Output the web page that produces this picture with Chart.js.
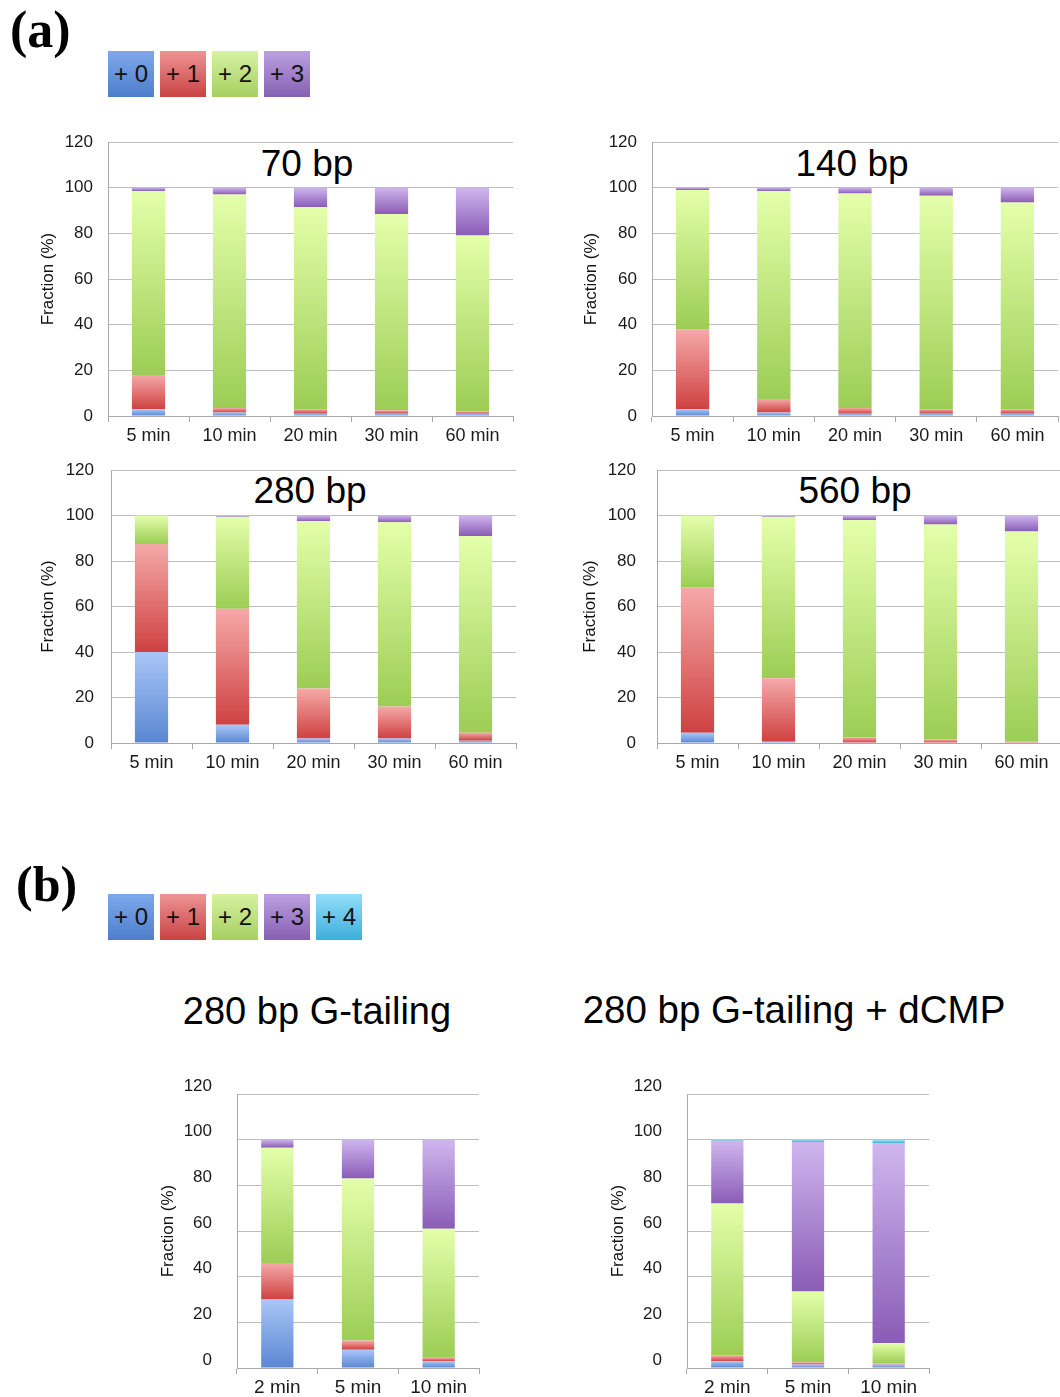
<!DOCTYPE html>
<html>
<head>
<meta charset="utf-8">
<script src="https://cdn.jsdelivr.net/npm/chart.js@4.4.0/dist/chart.umd.min.js"></script>
<style>
html, body { margin: 0; padding: 0; background: #fff; }
body { width: 1060px; height: 1397px; position: relative; overflow: hidden; font-family: "Liberation Sans", Arial, sans-serif; }
.box { position: absolute; }
.tag { position: absolute; font-family: "Liberation Serif", "Times New Roman", serif; font-weight: bold; color: #000; }
.title { position: absolute; text-align: center; white-space: nowrap; color: #000; }
.leg { position: absolute; display: flex; gap: 6px; }
.leg div { width: 46px; height: 46px; font-size: 24px; line-height: 46px; text-align: center; color: #111; }
</style>
</head>
<body>

<div class="tag" style="left:10px;top:4px;font-size:52px;line-height:52px;">(a)</div>
<div class="leg" id="legA" style="left:108px;top:51px;"></div>

<div class="title" style="left:207px;width:200px;top:145px;font-size:37px;line-height:37px;">70 bp</div>
<div class="title" style="left:752px;width:200px;top:145px;font-size:37px;line-height:37px;">140 bp</div>
<div class="title" style="left:210px;width:200px;top:472px;font-size:37px;line-height:37px;">280 bp</div>
<div class="title" style="left:755px;width:200px;top:472px;font-size:37px;line-height:37px;">560 bp</div>

<div class="tag" style="left:16px;top:859px;font-size:50px;line-height:50px;">(b)</div>
<div class="leg" id="legB" style="left:108px;top:894px;"></div>

<div class="title" style="left:117px;width:400px;top:992px;font-size:38px;line-height:38px;">280 bp G-tailing</div>
<div class="title" style="left:544px;width:500px;top:991px;font-size:38.5px;line-height:38.5px;">280 bp G-tailing + dCMP</div>

<script>
// categories
const timesA = ['5 min', '10 min', '20 min', '30 min', '60 min'];
const timesB = ['2 min', '5 min', '10 min'];
const seriesNames = ['+ 0', '+ 1', '+ 2', '+ 3', '+ 4'];

// (a) 70 bp
const bp70_0 = [3, 1.5, 1, 1, 1];
const bp70_1 = [15, 2, 2, 1.5, 1];
const bp70_2 = [80.5, 93.5, 88.5, 86, 77];
const bp70_3 = [1.5, 3, 8.5, 11.5, 21];

// (a) 140 bp
const bp140_0 = [3, 1.5, 1, 1, 1];
const bp140_1 = [35, 6, 2.5, 2, 2];
const bp140_2 = [61, 91, 94, 93.5, 90.5];
const bp140_3 = [1, 1.5, 2.5, 3.5, 6.5];

// (a) 280 bp
const bp280_0 = [40, 8, 2, 2, 1];
const bp280_1 = [47.5, 51, 22, 14, 3.5];
const bp280_2 = [12.5, 40.5, 73.5, 81, 86.5];
const bp280_3 = [0, 0.5, 2.5, 3, 9];

// (a) 560 bp
const bp560_0 = [4.5, 0.5, 0, 0, 0];
const bp560_1 = [64, 28, 2.5, 1.5, 0.5];
const bp560_2 = [31.5, 71, 95.5, 94.5, 92.5];
const bp560_3 = [0, 0.5, 2, 4, 7];

// (b) 280 bp G-tailing
const gt_0 = [30, 8, 3];
const gt_1 = [16, 4, 1.5];
const gt_2 = [50.5, 71, 56.5];
const gt_3 = [3.5, 17, 39];

// (b) 280 bp G-tailing + dCMP
const gtc_0 = [3, 1.5, 1.5];
const gtc_1 = [2.5, 1, 0.5];
const gtc_2 = [66.5, 31, 9];
const gtc_3 = [27.5, 65.5, 87.5];
const gtc_4 = [0.5, 1, 1.5];

// colours: top (light) and bottom (dark) of each segment
const topCols = ['#a9c6f7', '#f5a9a9', '#e4ffaa', '#cfb6ee', '#a6e9fb'];
const botCols = ['#5a86d2', '#cf4141', '#9ccd55', '#8a5cb6', '#3cb0da'];
const legTop = ['#7fa8ec', '#ee9494', '#d6f2a2', '#bca0e2', '#92def8'];
const legBot = ['#4d7ecb', '#c94343', '#a6cf60', '#8660b2', '#3eaedb'];

function legend(id, n) {
  const el = document.getElementById(id);
  for (let i = 0; i < n; i++) {
    const d = document.createElement('div');
    d.textContent = seriesNames[i];
    d.style.background = 'linear-gradient(' + legTop[i] + ',' + legBot[i] + ')';
    el.appendChild(d);
  }
}
legend('legA', 4);
legend('legB', 5);

// each stacked segment gets its own vertical gradient
function segFill(i) {
  return function(c) {
    const chart = c.chart;
    const y = chart.scales.y;
    if (!chart.chartArea || !y || c.type !== 'data') return botCols[i];
    const ds = chart.data.datasets;
    let base = 0;
    for (let k = 0; k < c.datasetIndex; k++) base += ds[k].data[c.dataIndex] || 0;
    const v = ds[c.datasetIndex].data[c.dataIndex];
    const y0 = y.getPixelForValue(base), y1 = y.getPixelForValue(base + v);
    if (!(y0 > y1)) return botCols[i];
    const g = chart.ctx.createLinearGradient(0, y1, 0, y0);
    g.addColorStop(0, topCols[i]);
    g.addColorStop(1, botCols[i]);
    return g;
  };
}

const AXW = 88, AXH = 44, RPAD = 4;

function panel(p, labels, series) {
  const div = document.createElement('div');
  div.className = 'box';
  div.style.left = (p.x0 - AXW) + 'px';
  div.style.top = (p.y0 - p.top) + 'px';
  div.style.width = (p.x1 - p.x0 + AXW + RPAD) + 'px';
  div.style.height = (p.y1 - p.y0 + p.top + AXH) + 'px';
  const cv = document.createElement('canvas');
  div.appendChild(cv);
  document.body.appendChild(div);

  new Chart(cv, {
    type: 'bar',
    data: {
      labels: labels,
      datasets: series.map((d, i) => ({
        label: seriesNames[i],
        data: d,
        backgroundColor: segFill(i),
        borderWidth: 0,
        barPercentage: p.bar,
        categoryPercentage: 1
      }))
    },
    options: {
      responsive: true,
      maintainAspectRatio: false,
      animation: false,
      events: [],
      layout: { padding: { top: p.top, right: RPAD, left: 0, bottom: 0 } },
      plugins: { legend: { display: false }, tooltip: { enabled: false } },
      scales: {
        x: {
          stacked: true,
          afterFit: s => { s.height = AXH; s.paddingLeft = 0; s.paddingRight = 0; },
          grid: { offset: true, drawOnChartArea: false, drawTicks: true, tickLength: 6, color: '#a9a9a9' },
          border: { color: '#a9a9a9' },
          ticks: { color: '#1a1a1a', padding: p.xpad, maxRotation: 0, autoSkip: false,
                   font: { family: 'Liberation Sans', size: p.xfs } }
        },
        y: {
          stacked: true,
          min: 0, max: 120,
          afterFit: s => { s.width = AXW; s.paddingTop = 0; s.paddingBottom = 0; },
          grid: { color: '#bdbdbd', drawTicks: false },
          border: { color: '#a9a9a9' },
          ticks: { stepSize: 20, color: '#1a1a1a', padding: p.tpad, labelOffset: p.loff,
                   font: { family: 'Liberation Sans', size: 17 } },
          title: { display: true, text: 'Fraction (%)', color: '#111',
                   padding: { top: p.ypad, bottom: 0 },
                   font: { family: 'Liberation Sans', size: 17 } }
        }
      }
    }
  });
}

panel({ x0: 108, x1: 513, y0: 142, y1: 416, top: 12, bar: 0.41, xfs: 18, xpad: 3, tpad: 15, ypad: 18, loff: 0 },
      timesA, [bp70_0, bp70_1, bp70_2, bp70_3]);
panel({ x0: 652, x1: 1058, y0: 142, y1: 416, top: 12, bar: 0.41, xfs: 18, xpad: 3, tpad: 15, ypad: 17, loff: 0 },
      timesA, [bp140_0, bp140_1, bp140_2, bp140_3]);
panel({ x0: 111, x1: 516, y0: 470, y1: 743, top: 12, bar: 0.41, xfs: 18, xpad: 3, tpad: 17, ypad: 15, loff: 0 },
      timesA, [bp280_0, bp280_1, bp280_2, bp280_3]);
panel({ x0: 657, x1: 1062, y0: 470, y1: 743, top: 12, bar: 0.41, xfs: 18, xpad: 3, tpad: 21, ypad: 11, loff: 0 },
      timesA, [bp560_0, bp560_1, bp560_2, bp560_3]);
panel({ x0: 237, x1: 479, y0: 1094, y1: 1368, top: 24, bar: 0.40, xfs: 19, xpad: 2, tpad: 25, ypad: 9, loff: -8 },
      timesB, [gt_0, gt_1, gt_2, gt_3]);
panel({ x0: 687, x1: 929, y0: 1094, y1: 1368, top: 24, bar: 0.40, xfs: 19, xpad: 2, tpad: 25, ypad: 9, loff: -8 },
      timesB, [gtc_0, gtc_1, gtc_2, gtc_3, gtc_4]);
</script>
</body>
</html>
